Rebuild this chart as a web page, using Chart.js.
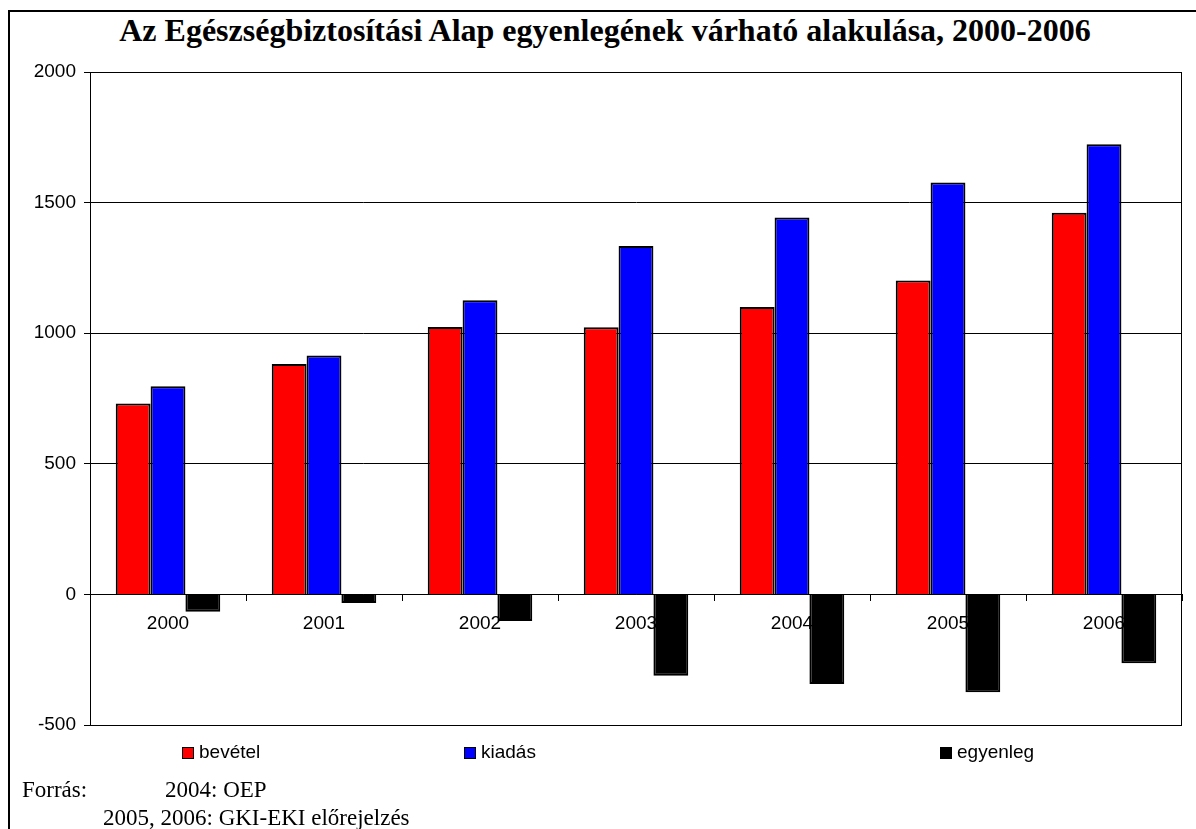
<!DOCTYPE html>
<html>
<head>
<meta charset="utf-8">
<script src="https://cdn.jsdelivr.net/npm/chart.js@4"></script>
<style>
  body { margin: 0; background: #fff; }
  #wrap { position: relative; width: 1196px; height: 829px; overflow: hidden; background: #fff; }
  #frame { position: absolute; left: 8px; top: 10px; width: 1200px; height: 840px; border: 2px solid #000; }
  #title { position: absolute; left: 0; top: 12px; width: 1210px; text-align: center;
           font: bold 32px "Liberation Serif", "Times New Roman", serif; color: #000; }
  canvas { position: absolute; left: 0; top: 0; }
  .leg { position: absolute; top: 741px; font: 19px "Liberation Sans", Arial, sans-serif; color: #000; white-space: nowrap; }
  .leg span { display: inline-block; width: 10px; height: 10px; border: 1px solid #000; margin-right: 5px; vertical-align: -1px; }
  .src { position: absolute; font: 23px "Liberation Serif", "Times New Roman", serif; color: #000; white-space: nowrap; }
</style>
</head>
<body>
<div id="wrap">
  <div id="frame"></div>
  <div id="title">Az Egészségbiztosítási Alap egyenlegének várható alakulása, 2000-2006</div>
  <canvas id="chart" width="1196" height="829"></canvas>
  <div id="legend"></div>
  <div class="src" style="left:22px; top:777px;">Forrás:</div>
  <div class="src" style="left:165px; top:777px;">2004: OEP</div>
  <div class="src" style="left:103px; top:805px;">2005, 2006: GKI-EKI előrejelzés</div>
</div>
<script>
  // Years
  const years = ["2000", "2001", "2002", "2003", "2004", "2005", "2006"];

  // Series
  const bevetel = [731, 882, 1024, 1023, 1100, 1202, 1461];
  const kiadas = [797, 915, 1126, 1334, 1443, 1577, 1723];
  const egyenleg = [-66, -33, -102, -311, -343, -375, -264];

  // Y axis ticks
  const yMin = -500, yMax = 2000, yStep = 500;

  const legendLeft = [182, 464, 940];

  // Frame round the plot area
  const plotFrame = {
    id: "plotFrame",
    beforeDatasetsDraw(chart) {
      const a = chart.chartArea, c = chart.ctx;
      c.save();
      c.strokeStyle = "#000";
      c.lineWidth = 1;
      c.strokeRect(a.left + 0.5, a.top + 0.5, a.right - a.left - 1, a.bottom - a.top);
      c.restore();
    }
  };

  const tickFont = { family: "'Liberation Sans', Arial, sans-serif", size: 19 };

  const chart = new Chart(document.getElementById("chart").getContext("2d"), {
    type: "bar",
    data: {
      labels: years,
      datasets: [
        { label: "bevétel", data: bevetel, backgroundColor: "#ff0000", borderColor: "#000", borderWidth: 2 },
        { label: "kiadás", data: kiadas, backgroundColor: "#0000ff", borderColor: "#000", borderWidth: 2 },
        { label: "egyenleg", data: egyenleg, backgroundColor: "#000000", borderColor: "#000", borderWidth: 2 }
      ]
    },
    options: {
      responsive: false,
      animation: false,
      devicePixelRatio: 1,
      layout: { padding: { left: 30, right: 14, top: 72, bottom: 104 } },
      datasets: {
        bar: { categoryPercentage: 0.67, barPercentage: 1 }
      },
      plugins: {
        legend: { display: false },
        title: { display: false },
        tooltip: { enabled: false }
      },
      scales: {
        x: {
          position: { y: 0 },
          grid: { offset: true, drawOnChartArea: false, tickLength: 6, color: "#000" },
          border: { display: true, color: "#000" },
          ticks: { font: tickFont, color: "#000", padding: 12, maxRotation: 0 }
        },
        y: {
          min: yMin,
          max: yMax,
          afterFit: s => { s.width = 60; },
          grid: { color: "#000", tickLength: 6 },
          border: { display: true, color: "#000" },
          ticks: { stepSize: yStep, font: tickFont, color: "#000", padding: 8, callback: v => String(v) }
        }
      }
    },
    plugins: [plotFrame]
  });

  // Legend built from the datasets
  const legend = document.getElementById("legend");
  chart.data.datasets.forEach((ds, i) => {
    const item = document.createElement("div");
    item.className = "leg";
    item.style.left = legendLeft[i] + "px";
    item.innerHTML = `<span style="background:${ds.backgroundColor}"></span>${ds.label}`;
    legend.appendChild(item);
  });
</script>
</body>
</html>
